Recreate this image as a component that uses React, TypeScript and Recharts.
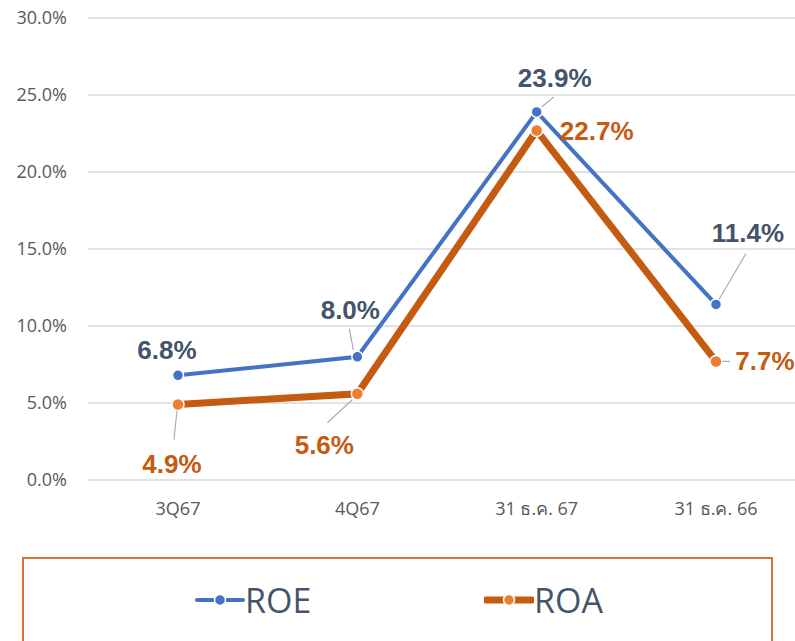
import { CartesianGrid, LabelList, Line, LineChart, XAxis, YAxis } from 'recharts';

const categories = ['3Q67', '4Q67', '31 ธ.ค. 67', '31 ธ.ค. 66'];
const roeValues = [6.8, 8.0, 23.9, 11.4];
const roaValues = [4.9, 5.6, 22.7, 7.7];
const yTicks = [0, 5, 10, 15, 20, 25, 30];

const data = categories.map((name, i) => ({ name, roe: roeValues[i], roa: roaValues[i] }));

const ROE_LINE = '#4472C4';
const ROA_LINE = '#C55A11';
const ROA_DOT = '#ED7D31';
const ROE_TEXT = '#44546A';
const LEADER = '#A6AEBB';

type LabelPos = { dx: number; dy: number; leader?: [number, number, number, number] };

// label placement relative to the point (label centre + optional leader line)
const roeLabelPos: LabelPos[] = [
  { dx: -11, dy: -25 },
  { dx: -7, dy: -47, leader: [-4, -7, -8, -28] },
  { dx: 18, dy: -34, leader: [5, -5, 17, -15] },
  { dx: 32, dy: -71, leader: [3, -5, 30, -51] },
];
const roaLabelPos: LabelPos[] = [
  { dx: -6, dy: 59, leader: [-1, 6, -4, 35] },
  { dx: -33, dy: 51, leader: [-5, 6, -30, 29] },
  { dx: 60, dy: 1 },
  { dx: 49, dy: 0, leader: [6, 0, 14, 0] },
];

function makeLabel(pos: LabelPos[], color: string) {
  return (props: any) => {
    const { x, y, value, index } = props;
    const p = pos[index];
    if (!p || x == null || y == null) return null;
    return (
      <g>
        {p.leader && (
          <line
            x1={x + p.leader[0]}
            y1={y + p.leader[1]}
            x2={x + p.leader[2]}
            y2={y + p.leader[3]}
            stroke={LEADER}
            strokeWidth={1.2}
          />
        )}
        <text
          x={x + p.dx}
          y={y + p.dy}
          textAnchor="middle"
          dominantBaseline="central"
          fill={color}
          fontFamily="'Liberation Sans', Arial, sans-serif"
          fontWeight="bold"
          fontSize={26}
        >
          {`${Number(value).toFixed(1)}%`}
        </text>
      </g>
    );
  };
}

function LegendItem({ label, line, dot, thick }: { label: string; line: string; dot: string; thick: number }) {
  return (
    <div style={{ display: 'flex', alignItems: 'center' }}>
      <svg width={50} height={20}>
        <line x1={2} y1={10} x2={48} y2={10} stroke={line} strokeWidth={thick} strokeLinecap="round" />
        <circle cx={25} cy={10} r={5.5} fill={dot} stroke="#fff" strokeWidth={1.5} />
      </svg>
      <span
        style={{
          fontFamily: "'Liberation Sans Narrow', 'Open Sans', sans-serif",
          fontSize: 34,
          color: ROE_TEXT,
        }}
      >
        {label}
      </span>
    </div>
  );
}

export default function App() {
  return (
    <div
      style={{
        position: 'absolute',
        left: 0,
        top: 0,
        width: 795,
        height: 641,
        overflow: 'hidden',
        background: '#fff',
      }}
    >
      <LineChart width={830} height={530} data={data} margin={{ top: 18, right: 24, left: 0, bottom: 10 }}>
        <CartesianGrid vertical={false} stroke="#D9D9D9" strokeWidth={1.3} />
        <XAxis
          dataKey="name"
          axisLine={false}
          tickLine={false}
          tickSize={0}
          tickMargin={22}
          height={40}
          interval={0}
          padding={{ left: 90, right: 90 }}
          tick={{ fill: '#595959', fontSize: 18, fontFamily: "'Open Sans', 'Noto Sans', sans-serif" }}
        />
        <YAxis
          domain={[0, 30]}
          ticks={yTicks}
          axisLine={false}
          tickLine={false}
          tickSize={0}
          tickMargin={21}
          width={88}
          tickFormatter={(v) => `${Number(v).toFixed(1)}%`}
          tick={{ fill: '#595959', fontSize: 18, fontFamily: "'Open Sans', 'Noto Sans', sans-serif" }}
        />
        <Line
          type="linear"
          dataKey="roa"
          stroke={ROA_LINE}
          strokeWidth={7}
          dot={{ r: 6, fill: ROA_DOT, stroke: '#fff', strokeWidth: 1.5 }}
          activeDot={false}
          isAnimationActive={false}
        >
          <LabelList dataKey="roa" content={makeLabel(roaLabelPos, ROA_LINE)} />
        </Line>
        <Line
          type="linear"
          dataKey="roe"
          stroke={ROE_LINE}
          strokeWidth={4}
          dot={{ r: 5.5, fill: ROE_LINE, stroke: '#fff', strokeWidth: 1.5 }}
          activeDot={false}
          isAnimationActive={false}
        >
          <LabelList dataKey="roe" content={makeLabel(roeLabelPos, ROE_TEXT)} />
        </Line>
      </LineChart>
      <div
        style={{
          position: 'absolute',
          left: 22,
          top: 557,
          width: 751,
          height: 120,
          border: '2px solid #D0763A',
          boxSizing: 'border-box',
        }}
      >
        <div style={{ position: 'absolute', left: 171, top: 18 }}>
          <LegendItem label="ROE" line={ROE_LINE} dot={ROE_LINE} thick={4} />
        </div>
        <div style={{ position: 'absolute', left: 460, top: 18 }}>
          <LegendItem label="ROA" line={ROA_LINE} dot={ROA_DOT} thick={7} />
        </div>
      </div>
    </div>
  );
}
